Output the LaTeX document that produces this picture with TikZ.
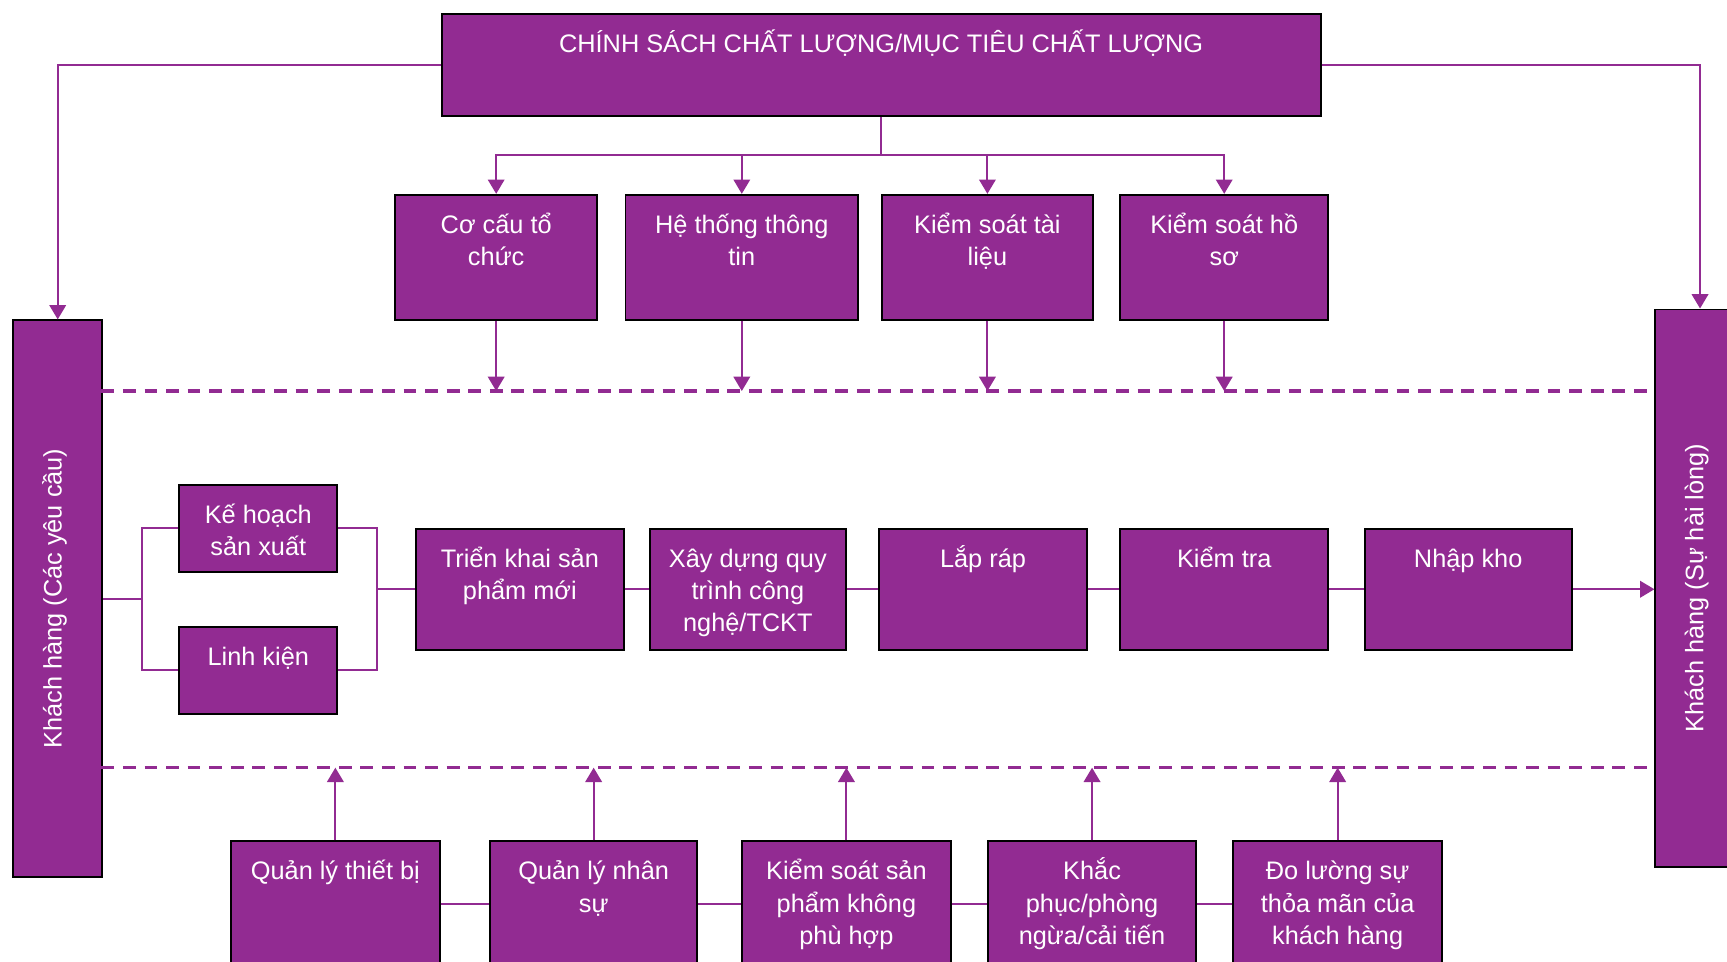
\documentclass[tikz,border=0pt]{standalone}
\usepackage{fontspec}
\setmainfont{Liberation Sans}
\usepackage{tikz}
\usetikzlibrary{positioning, arrows.meta}
\definecolor{P}{RGB}{146,43,146}
\tikzstyle{qbox} = [draw=black, fill=P, text=white,
line width=0.9pt,
inner xsep=-0.45pt, inner ysep=5.05pt, % keeps the outer size
font=\fontsize{11.5}{14.7}\selectfont]
\tikzstyle{conn} = [color=P, line width=0.9pt]
\tikzstyle{dashline} = [color=P, line width=1.4pt, dash pattern=on 5.8pt off 4pt]
\newcommand{\boxtext}[3]{\parbox[t][#2][t]{#1}{\centering\rule{0pt}{12.45pt}#3}}
\newcommand{\sidetext}[1]{\rotatebox{90}{\raisebox{1.5pt}[\height][\depth]{#1}}}

\begin{document}
\begin{tikzpicture}[x=0.5pt, y=-0.5pt, >={Triangle[width=7.5pt,length=6.5pt]}]
    \useasboundingbox (0,0) rectangle (1568,873);
    \clip (0,0) rectangle (1568,873);

    \node[qbox, anchor=north west] (chinhsach) at (400,12) {\boxtext{400pt}{36pt}{CHÍNH SÁCH CHẤT LƯỢNG/MỤC TIÊU CHẤT LƯỢNG}};

    \node[qbox, anchor=north west] (cocau) at (358,176) {\boxtext{92.5pt}{46.5pt}{Cơ cấu tổ\\chức}};
    \node[qbox, right=12pt of cocau]     (hethong) {\boxtext{106.5pt}{46.5pt}{Hệ thống thông\\tin}};
    \node[qbox, right=10pt of hethong]   (kstl)    {\boxtext{96.5pt}{46.5pt}{Kiểm soát tài\\liệu}};
    \node[qbox, right=11.5pt of kstl]    (kshs)    {\boxtext{95.5pt}{46.5pt}{Kiểm soát hồ\\sơ}};

    \node[qbox, minimum width=40.5pt, minimum height=252.5pt, anchor=north west] (khyc) at (11,290) {\sidetext{Khách hàng (Các yêu cầu)}};
    \node[qbox, minimum width=40.5pt, minimum height=253pt] (khhl) at (1543.5,534) {\sidetext{Khách hàng (Sự hài lòng)}};

    \node[qbox, anchor=north west] (kehoach)  at (162,439) {\boxtext{72.5pt}{29.5pt}{Kế hoạch\\sản xuất}};
    \node[qbox, anchor=north west] (linhkien) at (162,568) {\boxtext{72.5pt}{29.5pt}{Linh kiện}};

    \node[qbox, anchor=north west] (trienkhai) at (377,479) {\boxtext{95pt}{45pt}{Triển khai sản\\phẩm mới}};
    \node[qbox, right=11pt of trienkhai] (xaydung) {\boxtext{90pt}{45pt}{Xây dựng quy\\trình công\\nghệ/TCKT}};
    \node[qbox, right=14pt of xaydung]   (laprap)  {\boxtext{95.5pt}{45pt}{Lắp ráp}};
    \node[qbox, right=14pt of laprap]    (kiemtra) {\boxtext{95.5pt}{45pt}{Kiểm tra}};
    \node[qbox, right=15.5pt of kiemtra] (nhapkho) {\boxtext{95pt}{45pt}{Nhập kho}};

    \node[qbox, anchor=north west] (qltb) at (209,763) {\boxtext{95.5pt}{46.5pt}{Quản lý thiết bị}};
    \node[qbox, right=22pt of qltb]      (qlns)     {\boxtext{95pt}{46.5pt}{Quản lý nhân\\sự}};
    \node[qbox, right=19.5pt of qlns]    (kssp)     {\boxtext{95.5pt}{46.5pt}{Kiểm soát sản\\phẩm không\\phù hợp}};
    \node[qbox, right=16pt of kssp]      (khacphuc) {\boxtext{95.5pt}{46.5pt}{Khắc\\phục/phòng\\ngừa/cải tiến}};
    \node[qbox, right=16pt of khacphuc]  (doluong)  {\boxtext{95.5pt}{46.5pt}{Đo lường sự\\thỏa mãn của\\khách hàng}};

    \coordinate (bus) at ([yshift=-17.5pt]chinhsach.south);
    \coordinate (dtop) at (92,355);
    \coordinate (dbot) at (92,697);
    \coordinate (jl) at ([xshift=17.5pt]khyc.east);
    \coordinate (jr) at ([xshift=-17.5pt]trienkhai.west);

    \draw[dashline] (dtop) -- (dtop -| khhl.west);
    \draw[dashline] (dbot) -- (dbot -| khhl.west);

    \draw[conn] (chinhsach.south) -- (bus);
    \draw[conn, ->] (bus) -| (cocau.north);
    \draw[conn, ->] (bus) -| (hethong.north);
    \draw[conn, ->] (bus) -| (kstl.north);
    \draw[conn, ->] (bus) -| (kshs.north);
    \draw[conn, ->] (chinhsach.west) -| (khyc.north);
    \draw[conn, ->] (chinhsach.east) -| (khhl.north);

    \draw[conn] (cocau.south) edge[->] (cocau.south |- dtop)
        (hethong.south) edge[->] (hethong.south |- dtop)
        (kstl.south) edge[->] (kstl.south |- dtop)
        (kshs.south) edge[->] (kshs.south |- dtop);

    \draw[conn] (khyc.east) -- (jl);
    \draw[conn] (kehoach.west) -| (jl) |- (linhkien.west);
    \draw[conn] (kehoach.east) -| (jr) |- (linhkien.east);
    \draw[conn] (jr) -- (trienkhai.west);
    \draw[conn] (trienkhai) edge (xaydung) (xaydung) edge (laprap)
        (laprap) edge (kiemtra) (kiemtra) edge (nhapkho);
    \draw[conn, ->] (nhapkho.east) -- (nhapkho.east -| khhl.west);

    \draw[conn] (qltb.north) edge[->] (qltb.north |- dbot)
        (qlns.north) edge[->] (qlns.north |- dbot)
        (kssp.north) edge[->] (kssp.north |- dbot)
        (khacphuc.north) edge[->] (khacphuc.north |- dbot)
        (doluong.north) edge[->] (doluong.north |- dbot);
    \draw[conn] (qltb) edge (qlns) (qlns) edge (kssp)
        (kssp) edge (khacphuc) (khacphuc) edge (doluong);
\end{tikzpicture}
\end{document}
